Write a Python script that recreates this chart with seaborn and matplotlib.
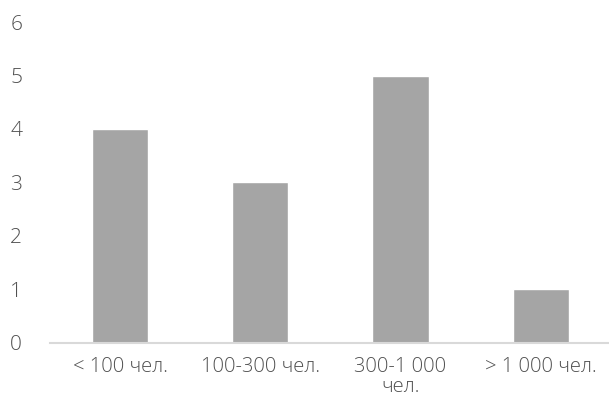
import matplotlib
matplotlib.use('Agg')
import matplotlib.pyplot as plt
import pandas as pd
import seaborn as sns

# chart data
categories = ['< 100 чел.', '100-300 чел.', '300-1 000\nчел.', '> 1 000 чел.']
values = [4, 3, 5, 1]

df = pd.DataFrame({'group': categories, 'count': values})

sns.set_style('white')
plt.rcParams['font.family'] = ['Open Sans', 'DejaVu Sans']

fig = plt.figure(figsize = (6.09, 4.01), dpi = 100)
ax = fig.add_axes([0.082, 0.145, 0.921, 0.80])

sns.barplot(data = df, x = 'group', y = 'count', color = '#A5A5A5',
            width = 0.4, saturation = 1, ax = ax)

ax.set_ylim(0, 6)
ax.set_xlim(-0.5, 3.5)
ax.set_yticks(range(0, 7))
ax.set_xlabel('')
ax.set_ylabel('')

for side in ['top', 'right', 'left']:
    ax.spines[side].set_visible(False)
ax.spines['bottom'].set_color('#D9D9D9')
ax.spines['bottom'].set_linewidth(1.5)

ax.tick_params(axis = 'x', length = 0, pad = 10, labelsize = 14.5,
               labelcolor = '#505050')
ax.tick_params(axis = 'y', length = 0, pad = 20, labelsize = 15,
               labelcolor = '#505050')
for lbl in ax.get_xticklabels() + ax.get_yticklabels():
    lbl.set_fontweight('light')
for lbl in ax.get_xticklabels():
    lbl.set_linespacing(1.0)

fig.savefig('out.png', dpi = 100)
